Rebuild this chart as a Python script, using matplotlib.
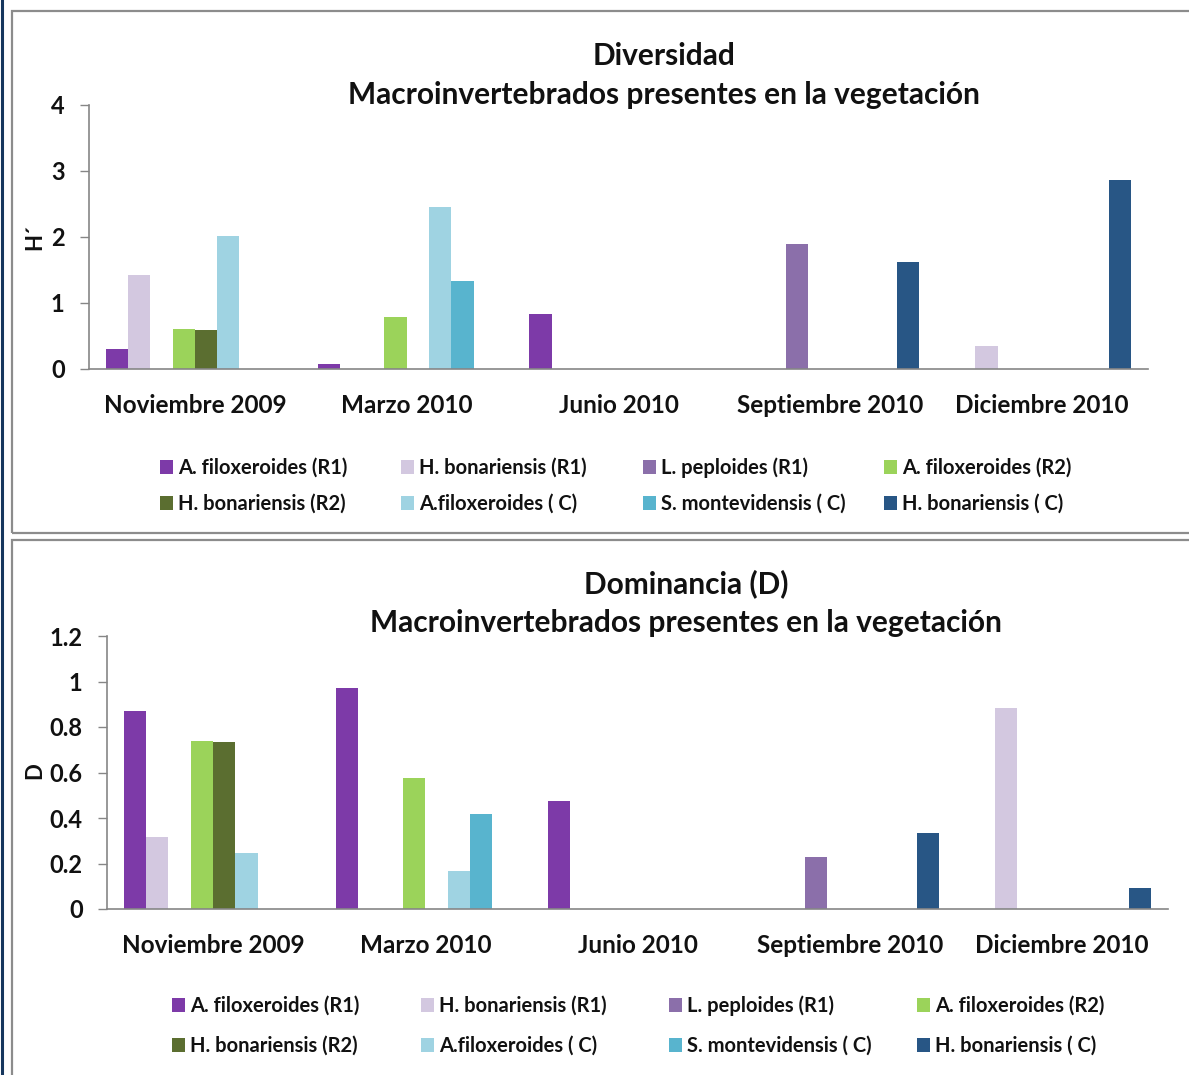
import matplotlib
matplotlib.use("Agg")
import matplotlib.pyplot as plt
from matplotlib.patches import Rectangle
from matplotlib.lines import Line2D
import numpy as np

plt.rcParams['font.family'] = ['Lato', 'DejaVu Sans']

# --- data -------------------------------------------------------------
campaigns = ["Noviembre 2009", "Marzo 2010", "Junio 2010",
             "Septiembre 2010", "Diciembre 2010"]

series_names = ["A. filoxeroides (R1)", "H. bonariensis (R1)", "L. peploides (R1)",
                "A. filoxeroides (R2)", "H. bonariensis (R2)", "A.filoxeroides ( C)",
                "S. montevidensis ( C)", "H. bonariensis ( C)"]

series_colors = ["#7D3AA8", "#D3C8E0", "#8B6FAA", "#9BD35A",
                 "#5B6E30", "#9FD3E2", "#58B4CE", "#285685"]

# Shannon diversity H' per campaign (rows = series, cols = campaigns)
h_a_fil_r1 = [0.31, 0.08, 0.84, 0.00, 0.00]
h_h_bon_r1 = [1.43, 0.00, 0.00, 0.00, 0.35]
h_l_pep_r1 = [0.00, 0.00, 0.00, 1.90, 0.00]
h_a_fil_r2 = [0.61, 0.79, 0.00, 0.00, 0.00]
h_h_bon_r2 = [0.59, 0.00, 0.00, 0.00, 0.00]
h_a_fil_c = [2.01, 2.46, 0.00, 0.00, 0.00]
h_s_mon_c = [0.00, 1.33, 0.00, 0.00, 0.00]
h_h_bon_c = [0.00, 0.00, 0.00, 1.62, 2.87]

# Dominance D per campaign
d_a_fil_r1 = [0.87, 0.973, 0.476, 0.00, 0.00]
d_h_bon_r1 = [0.318, 0.00, 0.00, 0.00, 0.882]
d_l_pep_r1 = [0.00, 0.00, 0.00, 0.227, 0.00]
d_a_fil_r2 = [0.74, 0.577, 0.00, 0.00, 0.00]
d_h_bon_r2 = [0.735, 0.00, 0.00, 0.00, 0.00]
d_a_fil_c = [0.245, 0.166, 0.00, 0.00, 0.00]
d_s_mon_c = [0.00, 0.419, 0.00, 0.00, 0.00]
d_h_bon_c = [0.00, 0.00, 0.00, 0.334, 0.091]

h_ticks = [0, 1, 2, 3, 4]
h_tick_labels = ["0", "1", "2", "3", "4"]
d_ticks = [0, 0.2, 0.4, 0.6, 0.8, 1.0, 1.2]
d_tick_labels = ["0", "0.2", "0.4", "0.6", "0.8", "1", "1.2"]

diversity = [h_a_fil_r1, h_h_bon_r1, h_l_pep_r1, h_a_fil_r2,
             h_h_bon_r2, h_a_fil_c, h_s_mon_c, h_h_bon_c]
dominance = [d_a_fil_r1, d_h_bon_r1, d_l_pep_r1, d_a_fil_r2,
             d_h_bon_r2, d_a_fil_c, d_s_mon_c, d_h_bon_c]

# --- figure -----------------------------------------------------------
W, H = 1189, 1075
fig = plt.figure(figsize=(W / 100, H / 100), dpi=100)
fig.patch.set_facecolor("white")


def fx(px):
    return px / W


def fy(py):
    return 1 - py / H


def box(x0, y0, x1, y1):
    return [fx(x0), fy(y1), fx(x1) - fx(x0), fy(y0) - fy(y1)]


AX_GRAY = "#868686"
TXT = "#111111"


def draw_panel(rect, values, ticks, tick_labels, ymax, ylabel,
               title1, title2, title_x, title_y1, title_y2,
               leg_cols, leg_rows, ylabel_pos):
    ax = fig.add_axes(box(*rect))
    n_cat = len(campaigns)
    n_ser = len(values)
    w = 1.0 / (n_ser + 1.5)
    handles = []
    for j, vals in enumerate(values):
        x = np.arange(n_cat) + 0.75 * w + j * w
        b = ax.bar(x, vals, width=w, align="edge", color=series_colors[j],
                   linewidth=0, zorder=2)
        handles.append(b)
    ax.set_xlim(0, n_cat)
    ax.set_ylim(0, ymax)
    ax.set_yticks(ticks)
    ax.set_yticklabels(tick_labels, fontsize=17, fontweight="bold", color=TXT)
    ax.set_xticks(np.arange(n_cat) + 0.5)
    ax.set_xticklabels(campaigns, fontsize=17.5, fontweight="bold", color=TXT)
    ax.tick_params(axis="x", length=0, pad=18)
    ax.tick_params(axis="y", length=6.5, width=1.0, color=AX_GRAY, pad=11)
    for s in ("top", "right"):
        ax.spines[s].set_visible(False)
    for s in ("left", "bottom"):
        ax.spines[s].set_color(AX_GRAY)
        ax.spines[s].set_linewidth(1.2)
    ax.set_facecolor("none")

    fig.text(fx(title_x), fy(title_y1), title1, ha="center", va="center",
             fontsize=21.5, fontweight="bold", color=TXT)
    fig.text(fx(title_x), fy(title_y2), title2, ha="center", va="center",
             fontsize=21.5, fontweight="bold", color=TXT)
    fig.text(fx(ylabel_pos[0]), fy(ylabel_pos[1]), ylabel, ha="center",
             va="center", rotation=90, fontsize=16, fontweight="bold", color=TXT)

    for k, hnd in enumerate(handles):
        col, row = k % 4, k // 4
        leg = fig.legend(handles=[hnd], labels=[series_names[k]],
                         loc="center left",
                         bbox_to_anchor=(fx(leg_cols[col]), fy(leg_rows[row])),
                         frameon=False, fontsize=14.5,
                         handlelength=0.65, handleheight=0.65,
                         handletextpad=0.25, borderpad=0, borderaxespad=0)
        for t in leg.get_texts():
            t.set_fontweight("bold")
            t.set_color(TXT)
    return ax


# panel outlines and page edge
fig.add_artist(Rectangle((fx(12), fy(533)), fx(1200) - fx(12), fy(11) - fy(533),
                         transform=fig.transFigure, fill=False,
                         edgecolor="#8C8C8C", linewidth=1.6))
fig.add_artist(Rectangle((fx(12), fy(1090)), fx(1200) - fx(12), fy(540) - fy(1090),
                         transform=fig.transFigure, fill=False,
                         edgecolor="#8C8C8C", linewidth=1.6))
fig.add_artist(Line2D([fx(1.5), fx(1.5)], [0, 1], transform=fig.transFigure,
                      color="#17375E", linewidth=2.2))

draw_panel((89, 105, 1148, 369), diversity, h_ticks, h_tick_labels, 4, "H´",
           "Diversidad", "Macroinvertebrados presentes en la vegetación",
           664, 56, 95,
           [160, 401, 643, 884], [468, 504], (35, 237))

draw_panel((107, 636, 1168, 909), dominance, d_ticks, d_tick_labels, 1.2, "D",
           "Dominancia (D)", "Macroinvertebrados presentes en la vegetación",
           686, 584, 623,
           [172, 421, 669, 917], [1006, 1046], (35, 771))

fig.savefig("out.png", dpi=100, facecolor="white")
